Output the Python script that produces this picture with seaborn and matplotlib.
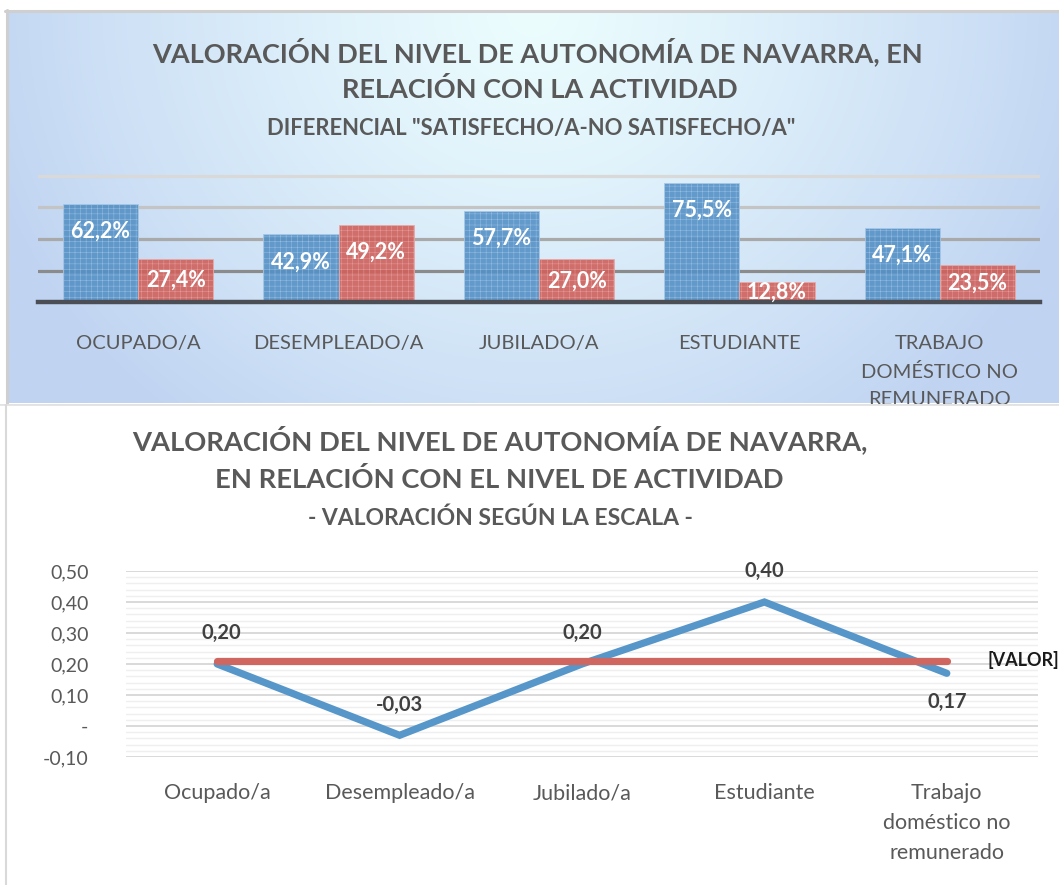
import numpy as np
import pandas as pd
import matplotlib
matplotlib.use("Agg")
import matplotlib.pyplot as plt
import seaborn as sns
from matplotlib.lines import Line2D
from matplotlib.colors import to_rgb

# ---------------- data ----------------
categories_top = ["OCUPADO/A", "DESEMPLEADO/A", "JUBILADO/A", "ESTUDIANTE",
                  "TRABAJO\nDOMÉSTICO NO\nREMUNERADO"]
series_names = ["Satisfecho/a", "No satisfecho/a"]
satisfecho = [62.2, 42.9, 57.7, 75.5, 47.1]
no_satisfecho = [27.4, 49.2, 27.0, 12.8, 23.5]
bar_grid_ticks = [20, 40, 60, 80]

categories_bottom = ["Ocupado/a", "Desempleado/a", "Jubilado/a", "Estudiante",
                     "Trabajo\ndoméstico no\nremunerado"]
valoracion = [0.20, -0.03, 0.20, 0.40, 0.17]
referencia = [0.21, 0.21, 0.21, 0.21, 0.21]
y_ticks = [-0.10, 0.0, 0.10, 0.20, 0.30, 0.40, 0.50]
y_tick_labels = ["-0,10", "-", "0,10", "0,20", "0,30", "0,40", "0,50"]

title_top = ["VALORACIÓN DEL NIVEL DE AUTONOMÍA DE NAVARRA, EN",
             "RELACIÓN CON LA ACTIVIDAD"]
subtitle_top = 'DIFERENCIAL "SATISFECHO/A-NO SATISFECHO/A"'
title_bottom = ["VALORACIÓN DEL NIVEL DE AUTONOMÍA DE NAVARRA,",
                "EN RELACIÓN CON EL NIVEL DE ACTIVIDAD"]
subtitle_bottom = "- VALORACIÓN SEGÚN LA ESCALA -"

# ---------------- style ----------------
sns.set_theme(style="white")
plt.rcParams['font.family'] = ['Lato', 'DejaVu Sans']
plt.rcParams['hatch.linewidth'] = 0.3

BLUE = "#5591c6"
RED = "#d0615c"
LINE_BLUE = "#5796c9"
LINE_RED = "#cf6660"
GREY_TXT = "#595959"

W, H = 1059, 885
fig = plt.figure(figsize=(W / 100, H / 100), dpi=100)
fig.patch.set_facecolor("white")


def fx(px):
    return px / W


def fy(py):
    return 1 - py / H


# ---------------- top panel background (gradient) ----------------
bg = fig.add_axes([fx(8), fy(403), 1 - fx(8), (403 - 12) / H], zorder=0)
ny, nx = 200, 400
yy, xx = np.mgrid[0:1:ny * 1j, 0:1:nx * 1j]
d = np.sqrt(((xx - 0.5) / 0.55) ** 2 + ((yy - 0.0) / 1.35) ** 2)
t = np.clip(d, 0, 1) ** 1.2
c0 = np.array(to_rgb("#ecfdfe"))
c1 = np.array(to_rgb("#c0d4f2"))
img = c0[None, None, :] * (1 - t[..., None]) + c1[None, None, :] * t[..., None]
bg.imshow(img, aspect="auto", extent=[0, 1, 0, 1], origin="upper")
bg.set_axis_off()

# panel borders
fig.add_artist(Line2D([fx(5), 1], [fy(11), fy(11)], color="#cfcfcf", lw=2.2))
fig.add_artist(Line2D([fx(6.5), fx(6.5)], [fy(10), fy(403)], color="#cfcfcf", lw=2.2))

# ---------------- top bar chart ----------------
px_per_unit = 126 / 80
ax1 = fig.add_axes([fx(38), fy(302), fx(1040) - fx(38), 81 * px_per_unit / H], zorder=2)
ax1.patch.set_alpha(0)

df_top = pd.DataFrame({
    "cat": categories_top * 2,
    "serie": [series_names[0]] * 5 + [series_names[1]] * 5,
    "valor": satisfecho + no_satisfecho,
})
sns.barplot(data=df_top, x="cat", y="valor", hue="serie", order=categories_top,
            hue_order=series_names, palette=[BLUE, RED], width=0.75,
            saturation=1, legend=False, ax=ax1, alpha=0.9, zorder=2)

for cont, col in zip(ax1.containers, ["#a9c8e6", "#eaaaa6"]):
    for p in cont:
        p.set_hatch("+++")
        p.set_edgecolor(col)
        p.set_linewidth(0.6)

for cont, vals in zip(ax1.containers, [satisfecho, no_satisfecho]):
    for p, v in zip(cont, vals):
        x = p.get_x() + p.get_width() / 2
        y = v - min(17.5, v / 2)
        ax1.text(x, y, f"{v:.1f}%".replace(".", ","), ha="center", va="center",
                 color="white", fontweight="bold", fontsize=15.5, zorder=5)

ax1.set_ylim(0, 81)
ax1.set_yticks(bar_grid_ticks)
ax1.tick_params(axis="y", length=0, labelleft=False)
ax1.grid(axis="y", visible=True)
for gl, c in zip(ax1.get_ygridlines(), ["#8b8b8b", "#a9a9a9", "#c4c4c4", "#d9d9d9"]):
    gl.set_color(c)
    gl.set_linewidth(2.3)
    gl.set_zorder(1)
for s in ["top", "right", "left"]:
    ax1.spines[s].set_visible(False)
ax1.spines["bottom"].set_color("#4b4f55")
ax1.spines["bottom"].set_linewidth(3.2)
ax1.spines["bottom"].set_zorder(4)
ax1.set_xlabel("")
ax1.set_ylabel("")
ax1.tick_params(axis="x", length=0, pad=24, labelsize=14.5, labelcolor=GREY_TXT)
for lab in ax1.get_xticklabels():
    lab.set_linespacing(1.72)

# top titles
fig.text(fx(537), fy(52), title_top[0], ha="center", va="center", fontsize=19.5,
         fontweight="bold", color=GREY_TXT, zorder=3)
fig.text(fx(540), fy(90), title_top[1], ha="center", va="center", fontsize=19.5,
         fontweight="bold", color=GREY_TXT, zorder=3)
fig.text(fx(531), fy(128), subtitle_top, ha="center", va="center", fontsize=15.8,
         fontweight="bold", color=GREY_TXT, zorder=3)

# ---------------- bottom panel (white, covers overflow) ----------------
bgb = fig.add_axes([0, 0, 1, fy(404)], zorder=3)
bgb.set_facecolor("white")
bgb.set_axis_off()
bgb.add_artist(Line2D([0, 1], [1, 1], transform=bgb.transAxes, color="#e2e2e2", lw=2))
fig.add_artist(Line2D([fx(6), fx(6)], [fy(405), 0], color="#d9d9d9", lw=1.5, zorder=10))

# ---------------- bottom line chart ----------------
ax2 = fig.add_axes([fx(126), fy(757), fx(1038) - fx(126), (757 - 571) / H], zorder=4)
ax2.patch.set_alpha(0)

df_bot = pd.DataFrame({"cat": categories_bottom, "valor": valoracion, "ref": referencia})
sns.lineplot(data=df_bot, x="cat", y="valor", sort=False, color=LINE_BLUE, lw=5.2,
             ax=ax2, solid_capstyle="round", solid_joinstyle="miter", zorder=3)
sns.lineplot(data=df_bot, x="cat", y="ref", sort=False, color=LINE_RED, lw=5.2,
             ax=ax2, solid_capstyle="round", zorder=4)

ax2.set_xlim(-0.5, 4.5)
ax2.set_ylim(-0.10, 0.50)
ax2.set_yticks(y_ticks)
ax2.set_yticklabels(y_tick_labels)
ax2.set_yticks(np.arange(-0.10, 0.501, 0.02), minor=True)
ax2.grid(axis="y", which="minor", color="#efefef", lw=1.0, visible=True)
ax2.grid(axis="y", which="major", color="#d9d9d9", lw=1.4, visible=True)
ax2.grid(axis="x", visible=False)
ax2.set_axisbelow(True)
for s in ax2.spines.values():
    s.set_visible(False)
ax2.set_xlabel("")
ax2.set_ylabel("")
ax2.tick_params(axis="y", which="both", length=0, pad=27, labelsize=14, labelcolor=GREY_TXT)
ax2.tick_params(axis="x", length=0, pad=19, labelsize=15.5, labelcolor=GREY_TXT)
for lab in ax2.get_xticklabels():
    lab.set_linespacing(1.62)

for i, v in enumerate(valoracion):
    off = 22 if i < 4 else -21
    ax2.annotate(f"{v:.2f}".replace(".", ","), (i, v), xytext=(3 if i == 0 else 0, off),
                 textcoords="offset points", ha="center", va="center",
                 fontweight="bold", color="#404040", fontsize=14.5, zorder=6)

ax2.annotate("[VALOR]", (4, referencia[-1]), xytext=(29, 1), textcoords="offset points",
             ha="left", va="center", fontweight="bold", color="#1a1a1a", fontsize=13,
             annotation_clip=False, zorder=6)

# bottom titles
fig.text(fx(500), fy(440), title_bottom[0], ha="center", va="center", fontsize=19.7,
         fontweight="bold", color=GREY_TXT, zorder=10)
fig.text(fx(499), fy(480), title_bottom[1], ha="center", va="center", fontsize=19.7,
         fontweight="bold", color=GREY_TXT, zorder=10)
fig.text(fx(500), fy(518), subtitle_bottom, ha="center", va="center", fontsize=16.5,
         fontweight="bold", color=GREY_TXT, zorder=10)

fig.savefig("out.png", dpi=100)
